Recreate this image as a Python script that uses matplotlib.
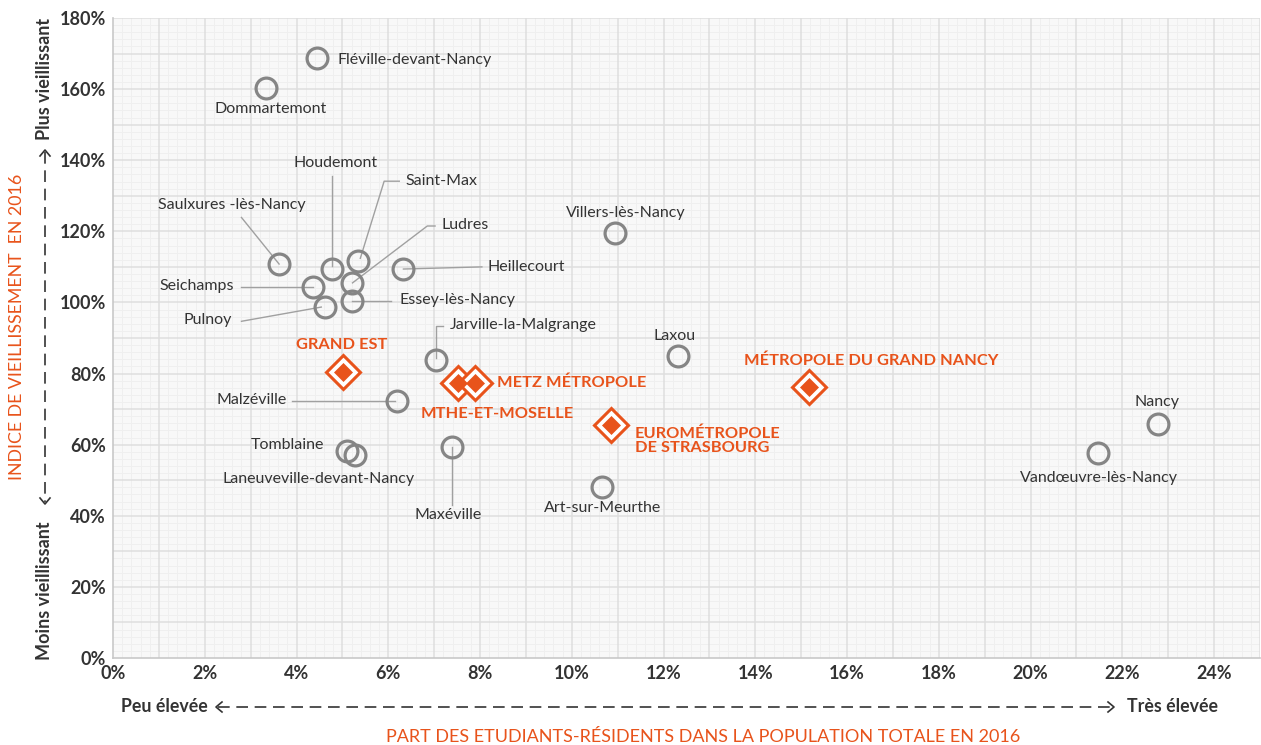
import matplotlib
matplotlib.use("Agg")
import matplotlib.pyplot as plt
from matplotlib.lines import Line2D
from matplotlib.ticker import FuncFormatter

plt.rcParams['font.family'] = ['Lato', 'DejaVu Sans']

# --- data (x = part des etudiants %, y = indice de vieillissement %) ---
communes = ['Fléville-devant-Nancy', 'Dommartemont', 'Saulxures -lès-Nancy', 'Houdemont',
            'Saint-Max', 'Ludres', 'Heillecourt', 'Seichamps', 'Essey-lès-Nancy', 'Pulnoy',
            'Villers-lès-Nancy', 'Jarville-la-Malgrange', 'Laxou', 'Malzéville', 'Tomblaine',
            'Laneuveville-devant-Nancy', 'Maxéville', 'Art-sur-Meurthe', 'Nancy',
            'Vandœuvre-lès-Nancy']
commune_x = [4.45, 3.34, 3.62, 4.78, 5.35, 5.22, 6.33, 4.37, 5.22, 4.61,
             10.94, 7.05, 12.31, 6.20, 5.09, 5.28, 7.38, 10.66, 22.78, 21.46]
commune_y = [168.7, 160.3, 110.8, 109.4, 111.6, 105.5, 109.4, 104.3, 100.4, 98.7,
             119.5, 83.8, 84.9, 72.3, 58.2, 57.1, 59.3, 48.1, 65.8, 57.6]

territoires = ['GRAND EST', 'MTHE-ET-MOSELLE', 'METZ MÉTROPOLE',
               'EUROMÉTROPOLE\nDE STRASBOURG', 'MÉTROPOLE DU GRAND NANCY']
terr_x = [5.02, 7.53, 7.90, 10.85, 15.17]
terr_y = [80.4, 77.3, 77.3, 65.5, 76.2]

x_ticks = list(range(0, 25, 2))
y_ticks = list(range(0, 181, 20))

ORANGE = '#e8531b'
DARK = '#333333'
GREY = '#858585'

# label placement: (x, y, ha, leader path in data coords or None)
commune_labels = {
    'Fléville-devant-Nancy': (4.89, 168.2, 'left', None),
    'Dommartemont': (3.43, 154.4, 'center', None),
    'Saulxures -lès-Nancy': (2.59, 127.4, 'center', [(2.80, 123.9), (3.62, 110.8)]),
    'Houdemont': (4.85, 139.2, 'center', [(4.78, 135.5), (4.78, 110.2)]),
    'Saint-Max': (6.37, 134.1, 'left', [(6.24, 134.1), (5.91, 134.1), (5.39, 112.4)]),
    'Ludres': (7.15, 121.8, 'left', [(7.02, 121.5), (6.85, 121.5), (5.22, 105.5)]),
    'Heillecourt': (8.17, 110.0, 'left', [(8.04, 110.0), (6.33, 109.4)]),
    'Seichamps': (2.63, 104.6, 'right', [(2.80, 104.3), (4.37, 104.3)]),
    'Essey-lès-Nancy': (6.24, 100.7, 'left', [(6.07, 100.4), (5.22, 100.4)]),
    'Pulnoy': (2.59, 95.0, 'right', [(2.80, 94.7), (4.54, 98.7)]),
    'Villers-lès-Nancy': (11.17, 125.1, 'center', None),
    'Jarville-la-Malgrange': (7.33, 93.6, 'left', [(7.20, 93.3), (7.05, 93.3), (7.05, 84.5)]),
    'Laxou': (12.24, 90.5, 'center', None),
    'Malzéville': (3.78, 72.6, 'right', [(3.91, 72.3), (6.15, 72.3)]),
    'Tomblaine': (4.61, 59.9, 'right', None),
    'Laneuveville-devant-Nancy': (4.48, 50.3, 'center', None),
    'Maxéville': (7.30, 40.2, 'center', [(7.38, 59.3), (7.38, 43.0)]),
    'Art-sur-Meurthe': (10.67, 42.2, 'center', None),
    'Nancy': (22.76, 72.0, 'center', None),
    'Vandœuvre-lès-Nancy': (21.50, 50.6, 'center', None),
}
terr_labels = {
    'GRAND EST': (4.98, 88.0, 'center'),
    'MTHE-ET-MOSELLE': (8.37, 68.6, 'center'),
    'METZ MÉTROPOLE': (8.37, 77.3, 'left'),
    'EUROMÉTROPOLE\nDE STRASBOURG': (11.37, 61.2, 'left'),
    'MÉTROPOLE DU GRAND NANCY': (16.52, 83.5, 'center'),
}

W, H = 1261, 745
fig = plt.figure(figsize=(W / 100, H / 100), dpi=100)
fig.patch.set_facecolor('white')


def px(x, y):
    """pixel (from top-left) -> figure fraction"""
    return x / W, 1 - y / H


ax = fig.add_axes([113 / W, (H - 658) / H, 1147 / W, 640 / H])
ax.set_facecolor('#f8f8f8')
ax.set_xlim(0, 25)
ax.set_ylim(0, 180)

# grid
for v in [i * 0.2 for i in range(1, 125)]:
    if abs(v - round(v)) > 1e-6:
        ax.axvline(v, color='#efefef', lw=0.7, zorder=0)
for v in range(0, 181, 2):
    if v % 10:
        ax.axhline(v, color='#efefef', lw=0.7, zorder=0)
for v in range(1, 26):
    ax.axvline(v, color='#dedede', lw=1.1, zorder=0.5)
for v in range(10, 181, 10):
    ax.axhline(v, color='#dedede', lw=1.1, zorder=0.5)

for s in ['top', 'right']:
    ax.spines[s].set_visible(False)
for s in ['left', 'bottom']:
    ax.spines[s].set_color('#c8c8c8')
    ax.spines[s].set_linewidth(1.2)

ax.set_xticks(x_ticks)
ax.set_yticks(y_ticks)
ax.xaxis.set_major_formatter(FuncFormatter(lambda v, p: f'{int(v)}%'))
ax.yaxis.set_major_formatter(FuncFormatter(lambda v, p: f'{int(v)}%'))
ax.tick_params(length=0, labelsize=13, labelcolor=DARK, pad=5)
for t in ax.get_xticklabels() + ax.get_yticklabels():
    t.set_fontweight('bold')

# leader lines and labels
for name, (tx, ty, ha, path) in commune_labels.items():
    if path:
        ax.plot([p[0] for p in path], [p[1] for p in path], color='#a0a0a0', lw=1, zorder=2)
    ax.text(tx, ty, name, ha=ha, va='center', fontsize=11.5, color=DARK, zorder=4)

# communes
ax.plot(commune_x, commune_y, 'o', ms=15, mfc='none', mec=GREY, mew=2.3, zorder=3)

# territories (double diamond)
ax.plot(terr_x, terr_y, 'D', ms=17, mfc='white', mec=ORANGE, mew=2.2, zorder=5)
ax.plot(terr_x, terr_y, 'D', ms=9.5, mfc=ORANGE, mec=ORANGE, mew=0.5, zorder=6)
for name, (tx, ty, ha) in terr_labels.items():
    ax.text(tx, ty, name, ha=ha, va='center', fontsize=11.8, fontweight='bold',
            color=ORANGE, linespacing=1.0, zorder=7)

# axis titles
fig.text(*px(703, 737), 'PART DES ETUDIANTS-RÉSIDENTS DANS LA POPULATION TOTALE EN 2016',
         ha='center', va='center', fontsize=13, color=ORANGE)
fig.text(*px(17, 327), 'INDICE DE VIEILLISSEMENT  EN 2016', rotation=90,
         ha='center', va='center', fontsize=12.8, color=ORANGE)

# direction hints
fig.text(*px(208, 707), 'Peu élevée', ha='right', va='center', fontsize=12.8,
         fontweight='bold', color=DARK)
fig.text(*px(1127, 707), 'Très élevée', ha='left', va='center', fontsize=12.8,
         fontweight='bold', color=DARK)
fig.text(*px(45, 660), 'Moins vieillissant', rotation=90, ha='center', va='bottom',
         fontsize=13, fontweight='bold', color=DARK)
fig.text(*px(45, 18), 'Plus vieillissant', rotation=90, ha='center', va='top',
         fontsize=13, fontweight='bold', color=DARK)


def fig_line(pts, **kw):
    xs, ys = zip(*[px(x, y) for x, y in pts])
    fig.add_artist(Line2D(xs, ys, transform=fig.transFigure, color=DARK, lw=1.2, **kw))


fig_line([(218, 707), (1112, 707)], linestyle=(0, (7, 4)))
fig_line([(222, 702), (216, 707), (222, 712)])
fig_line([(1108, 702), (1114, 707), (1108, 712)])
fig_line([(45, 152), (45, 502)], linestyle=(0, (7, 4)))
fig_line([(40, 156), (45, 150), (50, 156)])
fig_line([(40, 498), (45, 504), (50, 498)])

fig.savefig('out.png', dpi=100)
